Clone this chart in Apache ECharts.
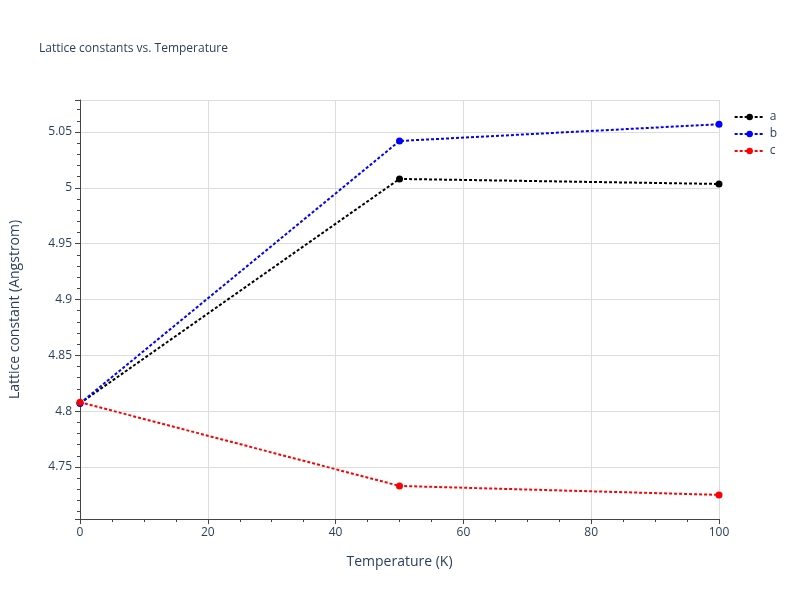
<!DOCTYPE html>
<html>
<head>
<meta charset="utf-8">
<script src="https://cdn.jsdelivr.net/npm/echarts@6/dist/echarts.min.js"></script>
<style>body{margin:0}#chart{width:800px;height:600px}</style>
</head>
<body>
<div id="chart"></div>
<script>
var temps = [0, 50, 100];
var aVals = [4.807, 5.008, 5.0035];
var bVals = [4.807, 5.042, 5.057];
var cVals = [4.808, 4.733, 4.725];
var names = ['a', 'b', 'c'];
var colors = ['#000000', '#0000ff', '#ff0000'];

var chart = echarts.init(document.getElementById('chart'));
var txt = '#2a3f5f';
function mk(name, vals, color) {
    return {
        name: name, type: 'line',
        data: temps.map(function (t, i) { return [t, vals[i]]; }),
        symbol: 'circle', symbolSize: 7,
        itemStyle: { color: color },
        lineStyle: { color: color, width: 2, type: [3, 2] }
    };
}
chart.setOption({
    textStyle: { fontFamily: 'Open Sans' },
    title: { text: 'Lattice constants vs. Temperature', left: 34, top: 38,
        textStyle: { fontSize: 12, fontWeight: 'normal', color: txt, fontFamily: 'Open Sans' } },
    legend: {
        orient: 'vertical', right: 18, top: 106, itemGap: 5, itemWidth: 30, itemHeight: 8,
        data: names, textStyle: { color: txt, fontSize: 12 }
    },
    grid: { left: 80, right: 81, top: 100, bottom: 81 },
    xAxis: {
        type: 'value', min: 0, max: 100, interval: 20,
        name: 'Temperature (K)', nameLocation: 'middle', nameGap: 36,
        nameTextStyle: { color: txt, fontSize: 14 },
        axisLine: { show: true, lineStyle: { color: '#444' } },
        axisTick: { show: true, length: 5, lineStyle: { color: '#444' } },
        minorTick: { show: true, splitNumber: 4, length: 3, lineStyle: { color: '#444' } },
        axisLabel: { color: txt, fontSize: 12 },
        splitLine: { show: true, lineStyle: { color: '#dddddd' } }
    },
    yAxis: {
        type: 'value', min: 4.7034, max: 5.0787, minInterval: 0.05, maxInterval: 0.05,
        name: 'Lattice constant (Angstrom)', nameLocation: 'middle', nameGap: 58,
        nameTextStyle: { color: txt, fontSize: 14 },
        axisLine: { show: true, lineStyle: { color: '#444' } },
        axisTick: { show: true, length: 5, lineStyle: { color: '#444' } },
        minorTick: { show: true, splitNumber: 5, length: 3, lineStyle: { color: '#444' } },
        axisLabel: { color: txt, fontSize: 12, showMinLabel: false, showMaxLabel: false },
        splitLine: { show: true, lineStyle: { color: '#dddddd' } }
    },
    series: [mk('a', aVals, colors[0]), mk('b', bVals, colors[1]), mk('c', cVals, colors[2])]
});
</script>
</body>
</html>
